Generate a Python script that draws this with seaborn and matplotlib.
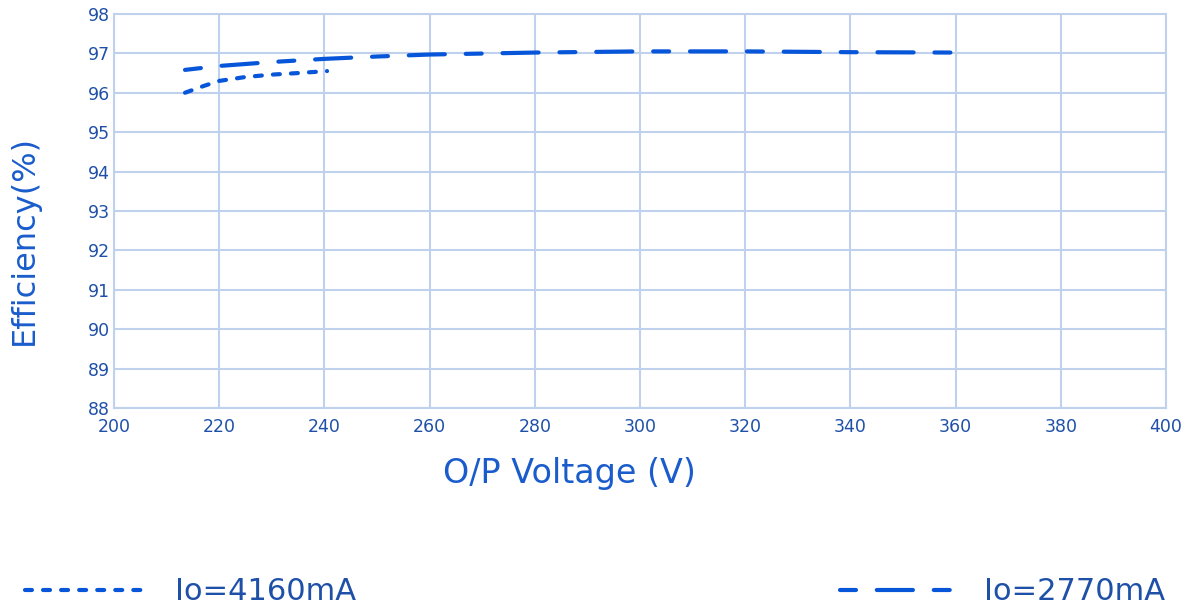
import matplotlib
matplotlib.use("Agg")
import matplotlib.pyplot as plt
import pandas as pd
import seaborn as sns

# Efficiency curves
v_4160 = [213.5, 217, 220, 225, 230, 235, 240.5]
eff_4160 = [96.0, 96.17, 96.3, 96.4, 96.46, 96.5, 96.55]

v_2770 = [213.5, 220, 230, 240, 250, 260, 280, 300, 320, 340, 360]
eff_2770 = [96.58, 96.68, 96.78, 96.86, 96.92, 96.97, 97.02, 97.05, 97.05, 97.03, 97.02]

labels = ["Io=4160mA", "Io=2770mA"]
x_ticks = list(range(200, 401, 20))
y_ticks = list(range(88, 99))

data = pd.concat([
    pd.DataFrame({"V": v_4160, "eff": eff_4160, "series": labels[0]}),
    pd.DataFrame({"V": v_2770, "eff": eff_2770, "series": labels[1]}),
])

sns.set_style("white")
plt.rcParams["font.family"] = ["DejaVu Sans"]
plt.rcParams["lines.scale_dashes"] = False

line_blue = "#0756da"
text_blue = "#1f50a8"
label_blue = "#1a5ccc"
grid_blue = "#bfd1ec"

fig = plt.figure(figsize=(11.85, 6.07), dpi=100)
ax = fig.add_axes([0.0962, 0.328, 0.8878, 0.649])

sns.lineplot(data=data, x="V", y="eff", hue="series", style="series",
             palette=[line_blue, line_blue],
             dashes={labels[0]: (5, 8), labels[1]: (11.5, 15, 26, 15)},
             linewidth=3.0, legend=False, ax=ax, sort=False)
for ln in ax.get_lines():
    ln.set_dash_capstyle("round")

ax.set_xlim(200, 400)
ax.set_ylim(88, 98)
ax.set_xticks(x_ticks)
ax.set_yticks(y_ticks)
ax.grid(True, color=grid_blue, linewidth=1.5)
for s in ax.spines.values():
    s.set_color(grid_blue)
    s.set_linewidth(1.5)
ax.tick_params(length=0, labelsize=12.5, labelcolor=text_blue)
ax.tick_params(axis="y", pad=3)
ax.tick_params(axis="x", pad=7)

ax.set_xlabel("O/P Voltage (V)", fontsize=24, color=label_blue)
ax.set_ylabel("Efficiency(%)", fontsize=23, color=label_blue)
ax.xaxis.set_label_coords(0.4325, -0.125)
ax.yaxis.set_label_coords(-0.07, 0.426)

handles = ax.get_lines()
leg1 = fig.legend([handles[0]], [labels[0]], loc="lower left",
                  bbox_to_anchor=(25 / 1185, 0.001), frameon=False,
                  borderpad=0, borderaxespad=0,
                  fontsize=22, handlelength=4.0, handletextpad=0.9,
                  labelcolor=text_blue)
leg2 = fig.legend([handles[1]], [labels[1]], loc="lower right",
                  bbox_to_anchor=(1165 / 1185, 0.001), frameon=False,
                  borderpad=0, borderaxespad=0,
                  fontsize=22, handlelength=3.8, handletextpad=0.9,
                  labelcolor=text_blue)

fig.savefig("out.png", dpi=100)
